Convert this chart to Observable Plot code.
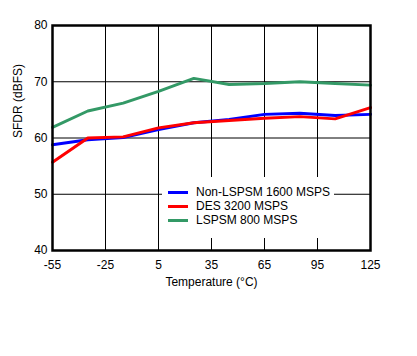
<!DOCTYPE html>
<html>
<head>
<meta charset="utf-8">
<script src="https://cdn.jsdelivr.net/npm/d3@7"></script>
<script src="https://cdn.jsdelivr.net/npm/@observablehq/plot@0.6"></script>
<style>
  html, body { margin: 0; padding: 0; background: #fff; }
  #wrap { position: relative; width: 417px; height: 356px; font-family: "Liberation Sans", Arial, sans-serif; }
  #legend { position: absolute; left: 162px; top: 177px; width: 172px; height: 61px; background: #fff; font-size: 12px; color: #000; }
  .item { position: absolute; left: 6px; height: 14px; display: flex; align-items: center; }
  .swatch { width: 20px; height: 3px; margin-right: 8px; }
</style>
</head>
<body>
<div id="wrap"></div>
<script>
const temps = [-55, -35, -15, 5, 25, 45, 65, 85, 105, 125];
const nonLspsm1600 = [58.8, 59.7, 60.1, 61.5, 62.7, 63.3, 64.2, 64.4, 64.0, 64.2];
const des3200 = [55.7, 60.0, 60.2, 61.8, 62.7, 63.1, 63.5, 63.8, 63.4, 65.4];
const lspsm800 = [61.9, 64.8, 66.2, 68.3, 70.6, 69.5, 69.7, 70.0, 69.7, 69.4];
const seriesNames = ["Non-LSPSM 1600 MSPS", "DES 3200 MSPS", "LSPSM 800 MSPS"];
const seriesColors = ["#0000ff", "#ff0000", "#339966"];
const xTicks = [-55, -25, 5, 35, 65, 95, 125];
const yTicks = [40, 50, 60, 70, 80];
const xLabel = "Temperature (°C)";
const yLabel = "SFDR (dBFS)";

const allValues = [nonLspsm1600, des3200, lspsm800];
const rows = [];
allValues.forEach((vals, i) => vals.forEach((v, j) => rows.push({series: seriesNames[i], t: temps[j], v})));

const chart = Plot.plot({
  width: 417,
  height: 356,
  marginLeft: 52,
  marginRight: 47,
  marginTop: 25,
  marginBottom: 106,
  style: {fontFamily: '"Liberation Sans", Arial, sans-serif', fontSize: "12px", color: "#000", background: "#fff"},
  x: {domain: [-55, 125]},
  y: {domain: [40, 80]},
  color: {domain: seriesNames, range: seriesColors},
  marks: [
    Plot.ruleX(xTicks.slice(1, -1), {stroke: "#000", strokeWidth: 1, strokeOpacity: 1}),
    Plot.ruleY(yTicks.slice(1, -1), {stroke: "#000", strokeWidth: 1, strokeOpacity: 1}),
    Plot.line(rows, {x: "t", y: "v", z: "series", stroke: "series", strokeWidth: 3, strokeLinejoin: "miter", curve: "linear"}),
    Plot.frame({stroke: "#000", strokeWidth: 2.5}),
    Plot.axisX(xTicks, {tickSize: 0, tickPadding: 10, fontSize: 12, label: null, tickFormat: d => String(d)}),
    Plot.axisY(yTicks, {tickSize: 0, tickPadding: 5, fontSize: 12, label: null}),
    Plot.text([xLabel], {frameAnchor: "bottom", dy: 35, fontSize: 12, fill: "#000"}),
    Plot.text([yLabel], {frameAnchor: "left", dx: -34, rotate: -90, fontSize: 12, fill: "#000"})
  ]
});
const wrap = document.getElementById("wrap");
wrap.appendChild(chart);

const legend = document.createElement("div");
legend.id = "legend";
seriesNames.forEach((name, i) => {
  const item = document.createElement("div");
  item.className = "item";
  item.style.top = (8 + i * 14) + "px";
  const sw = document.createElement("span");
  sw.className = "swatch";
  sw.style.background = seriesColors[i];
  const tx = document.createElement("span");
  tx.textContent = name;
  item.appendChild(sw);
  item.appendChild(tx);
  legend.appendChild(item);
});
wrap.appendChild(legend);
</script>
</body>
</html>
